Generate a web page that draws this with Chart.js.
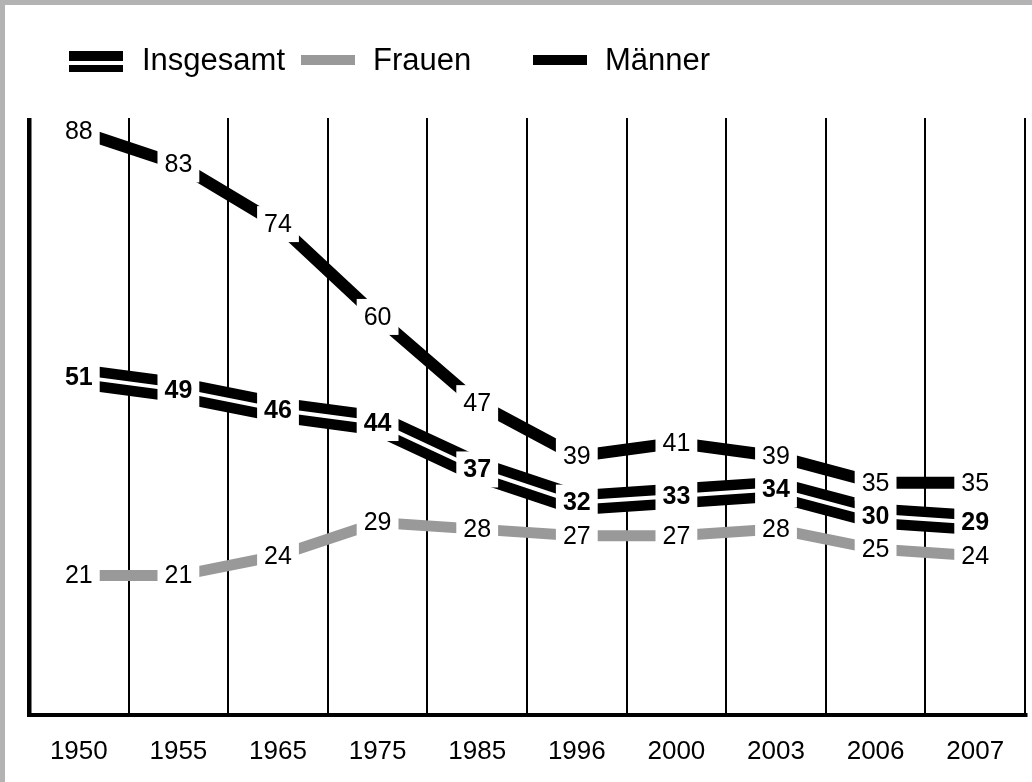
<!DOCTYPE html>
<html lang="de">
<head>
    <meta charset="UTF-8">
    <title>Insgesamt, Frauen, Männer 1950 bis 2007</title>
    <script src="https://cdn.jsdelivr.net/npm/chart.js"></script>
    <style>
        body { margin: 0; background: #fff; }
    </style>
</head>
<body>
    <canvas id="chart" width="1032" height="782"></canvas>
    <script>
        const jahre = ['1950', '1955', '1965', '1975', '1985', '1996', '2000', '2003', '2006', '2007'];
        const insgesamt = [51, 49, 46, 44, 37, 32, 33, 34, 30, 29];
        const frauen = [21, 21, 24, 29, 28, 27, 27, 28, 25, 24];
        const maenner = [88, 83, 74, 60, 47, 39, 41, 39, 35, 35];

        const SCHRIFT = "'Liberation Sans', Arial, Helvetica, sans-serif";
        const GRAU = '#999999';

        // Rahmen oben und links
        const rahmen = {
            id: 'rahmen',
            beforeDraw(chart) {
                const ctx = chart.ctx;
                ctx.save();
                ctx.fillStyle = '#fff';
                ctx.fillRect(0, 0, chart.width, chart.height);
                ctx.fillStyle = '#b3b3b3';
                ctx.fillRect(0, 0, chart.width, 5);
                ctx.fillRect(0, 0, 5, chart.height);
                ctx.restore();
            }
        };

        // Werte mit weissem Kasten auf die Linien schreiben
        const werte = {
            id: 'werte',
            afterDatasetsDraw(chart) {
                const ctx = chart.ctx;
                const liste = [];
                [[1, true], [2, false], [3, false]].forEach(([i, fett]) => {
                    const meta = chart.getDatasetMeta(i);
                    meta.data.forEach((pt, j) => {
                        liste.push({ x: pt.x, y: pt.y, text: String(chart.data.datasets[i].data[j]), fett });
                    });
                });
                ctx.save();
                ctx.textAlign = 'center';
                ctx.textBaseline = 'middle';
                liste.forEach(l => {
                    ctx.font = (l.fett ? 'bold ' : '') + '25px ' + SCHRIFT;
                    const w = ctx.measureText(l.text).width + 14;
                    ctx.fillStyle = '#fff';
                    ctx.fillRect(l.x - w / 2, l.y - 18, w, 36);
                });
                liste.forEach(l => {
                    ctx.font = (l.fett ? 'bold ' : '') + '25px ' + SCHRIFT;
                    ctx.fillStyle = '#000';
                    ctx.fillText(l.text, l.x, l.y + 1);
                });
                ctx.restore();
            }
        };

        // Legende oben
        const legende = {
            id: 'legende',
            afterDraw(chart) {
                const ctx = chart.ctx;
                ctx.save();
                ctx.font = '31px ' + SCHRIFT;
                ctx.textBaseline = 'alphabetic';
                ctx.fillStyle = '#000';

                ctx.fillRect(69, 51, 54, 21);
                ctx.fillStyle = '#fff';
                ctx.fillRect(69, 61, 54, 4);
                ctx.fillStyle = '#000';
                ctx.fillText('Insgesamt', 142, 70);

                ctx.fillStyle = GRAU;
                ctx.fillRect(301, 55, 54, 10);
                ctx.fillStyle = '#000';
                ctx.fillText('Frauen', 373, 70);

                ctx.fillRect(533, 55, 54, 10);
                ctx.fillText('Männer', 605, 70);
                ctx.restore();
            }
        };

        const ctx = document.getElementById('chart').getContext('2d');
        const chart = new Chart(ctx, {
            type: 'line',
            data: {
                labels: jahre,
                datasets: [
                    {
                        label: 'Insgesamt (Mitte)',
                        data: insgesamt,
                        borderColor: '#fff',
                        borderWidth: 4,
                        order: 0
                    },
                    {
                        label: 'Insgesamt',
                        data: insgesamt,
                        borderColor: '#000',
                        borderWidth: 25,
                        order: 1
                    },
                    {
                        label: 'Frauen',
                        data: frauen,
                        borderColor: GRAU,
                        borderWidth: 11,
                        order: 2
                    },
                    {
                        label: 'Männer',
                        data: maenner,
                        borderColor: '#000',
                        borderWidth: 12,
                        order: 3
                    }
                ]
            },
            options: {
                responsive: false,
                animation: false,
                layout: {
                    padding: { top: 118, left: 29, right: 7, bottom: -6 }
                },
                elements: {
                    point: { radius: 0, hoverRadius: 0 },
                    line: { tension: 0, fill: false, borderCapStyle: 'butt' }
                },
                plugins: {
                    legend: { display: false },
                    tooltip: { enabled: false }
                },
                scales: {
                    x: {
                        offset: true,
                        grid: {
                            offset: true,
                            color: '#000',
                            lineWidth: c => (c.index === 0 ? 4.5 : 2),
                            drawTicks: false
                        },
                        border: { display: true, color: '#000', width: 4 },
                        ticks: {
                            color: '#000',
                            padding: 21,
                            maxRotation: 0,
                            font: { family: SCHRIFT, size: 26 }
                        }
                    },
                    y: {
                        display: false,
                        min: 0,
                        max: 90
                    }
                }
            },
            plugins: [rahmen, werte, legende]
        });
    </script>
</body>
</html>
